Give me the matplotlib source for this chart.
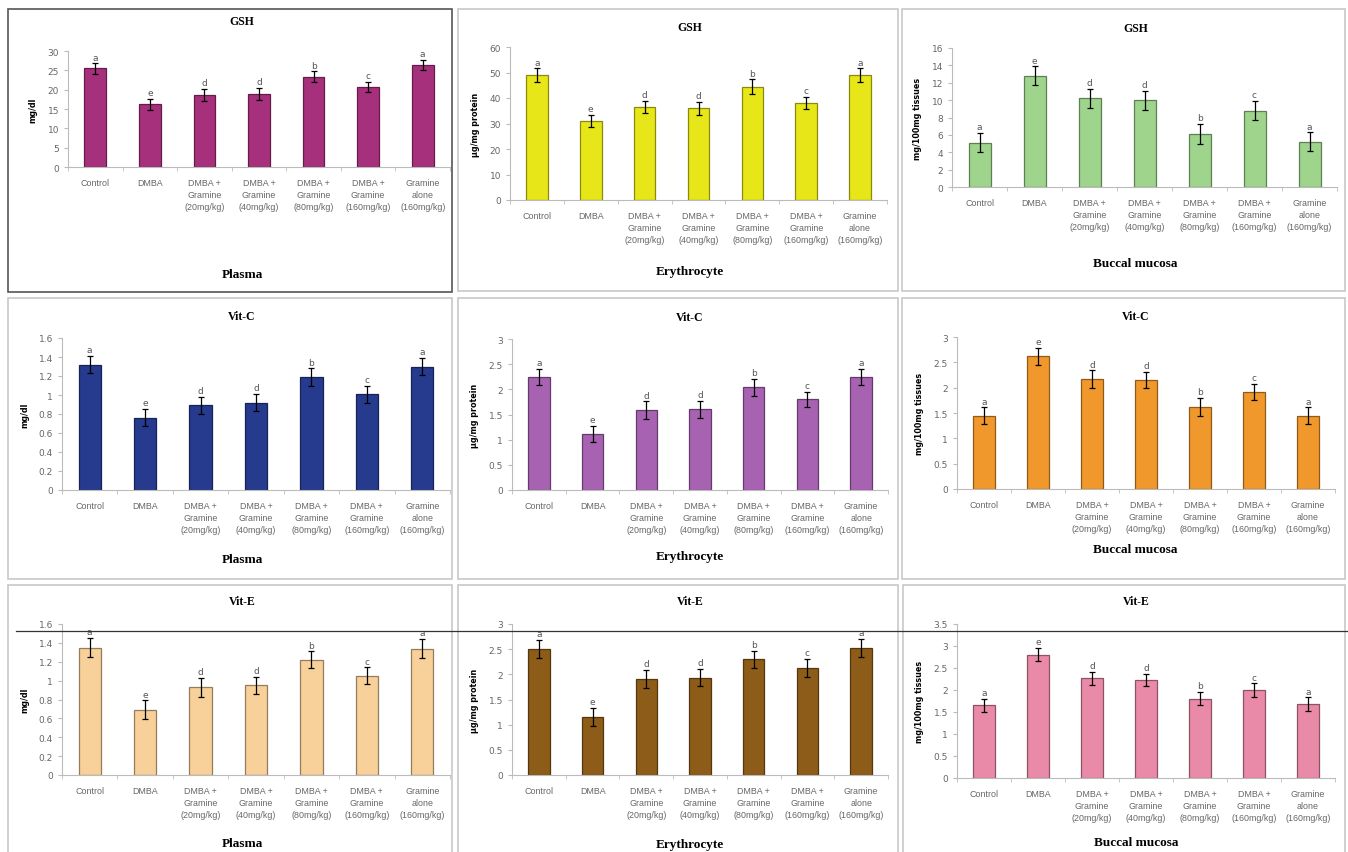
import numpy as np
import matplotlib as mpl
mpl.use('Agg')
import matplotlib.pyplot as plt
from matplotlib.patches import Rectangle
from matplotlib.lines import Line2D

W, H = 1348, 853

groups = ['Control', 'DMBA', 'DMBA +\nGramine\n(20mg/kg)', 'DMBA +\nGramine\n(40mg/kg)',
          'DMBA +\nGramine\n(80mg/kg)', 'DMBA +\nGramine\n(160mg/kg)', 'Gramine\nalone\n(160mg/kg)']
letters = ['a', 'e', 'd', 'd', 'b', 'c', 'a']

# GSH
gsh_plasma = [25.5, 16.2, 18.7, 18.9, 23.3, 20.8, 26.4]
gsh_plasma_err = [1.4, 1.5, 1.6, 1.6, 1.4, 1.3, 1.4]
gsh_ery = [49.0, 31.0, 36.5, 36.0, 44.5, 38.0, 49.0]
gsh_ery_err = [2.6, 2.5, 2.5, 2.6, 2.8, 2.4, 2.6]
gsh_buccal = [5.1, 12.8, 10.2, 10.0, 6.1, 8.8, 5.2]
gsh_buccal_err = [1.1, 1.1, 1.1, 1.1, 1.2, 1.1, 1.1]
# Vit-C
vitc_plasma = [1.32, 0.76, 0.89, 0.92, 1.19, 1.01, 1.30]
vitc_plasma_err = [0.09, 0.09, 0.09, 0.09, 0.09, 0.09, 0.09]
vitc_ery = [2.25, 1.12, 1.59, 1.60, 2.04, 1.80, 2.25]
vitc_ery_err = [0.16, 0.16, 0.17, 0.17, 0.17, 0.15, 0.16]
vitc_buccal = [1.45, 2.62, 2.17, 2.15, 1.62, 1.91, 1.45]
vitc_buccal_err = [0.16, 0.17, 0.17, 0.16, 0.17, 0.16, 0.16]
# Vit-E
vite_plasma = [1.35, 0.69, 0.93, 0.95, 1.22, 1.05, 1.34]
vite_plasma_err = [0.10, 0.10, 0.10, 0.09, 0.09, 0.09, 0.10]
vite_ery = [2.50, 1.15, 1.90, 1.93, 2.30, 2.13, 2.52]
vite_ery_err = [0.18, 0.18, 0.18, 0.17, 0.17, 0.18, 0.18]
vite_buccal = [1.65, 2.80, 2.27, 2.23, 1.80, 2.00, 1.68]
vite_buccal_err = [0.15, 0.15, 0.15, 0.14, 0.15, 0.15, 0.15]

# (values, errors, title, ylabel, xlabel, colour, ymax, ystep)
panels = [
    (gsh_plasma, gsh_plasma_err, 'GSH', 'mg/dl', 'Plasma', '#a6307c', 30, 5),
    (gsh_ery, gsh_ery_err, 'GSH', 'µg/mg protein', 'Erythrocyte', '#e6e619', 60, 10),
    (gsh_buccal, gsh_buccal_err, 'GSH', 'mg/100mg tissues', 'Buccal mucosa', '#9fd48d', 16, 2),
    (vitc_plasma, vitc_plasma_err, 'Vit-C', 'mg/dl', 'Plasma', '#263a8e', 1.6, 0.2),
    (vitc_ery, vitc_ery_err, 'Vit-C', 'µg/mg protein', 'Erythrocyte', '#a862b2', 3, 0.5),
    (vitc_buccal, vitc_buccal_err, 'Vit-C', 'mg/100mg tissues', 'Buccal mucosa', '#f0982c', 3, 0.5),
    (vite_plasma, vite_plasma_err, 'Vit-E', 'mg/dl', 'Plasma', '#f7d09a', 1.6, 0.2),
    (vite_ery, vite_ery_err, 'Vit-E', 'µg/mg protein', 'Erythrocyte', '#8c5c18', 3, 0.5),
    (vite_buccal, vite_buccal_err, 'Vit-E', 'mg/100mg tissues', 'Buccal mucosa', '#e98aa8', 3.5, 0.5),
]

# pixel layout: axes (left, right, y at 0, y at ymax), frame (x0, y0, x1, y1), title y, xlabel y
layout = [
    ((68, 450, 168, 52), (8, 10, 452, 293), 22, 275),
    ((510, 887, 201, 48), (458, 10, 898, 292), 28, 272),
    ((952, 1337, 188, 49), (902, 10, 1345, 292), 29, 264),
    ((62, 450, 491, 339), (8, 299, 452, 580), 317, 560),
    ((512, 888, 491, 340), (458, 299, 898, 580), 318, 557),
    ((957, 1335, 490, 338), (902, 299, 1345, 580), 317, 550),
    ((62, 450, 776, 625), (8, 586, 452, 860), 602, 844),
    ((512, 888, 776, 625), (458, 586, 898, 860), 602, 845),
    ((957, 1335, 779, 625), (903, 586, 1345, 860), 602, 843),
]

fig = plt.figure(figsize=(W / 100, H / 100), dpi=100)
fig.patch.set_facecolor('white')

def darker(c, f=0.6):
    r, g, b = mpl.colors.to_rgb(c)
    return (r * f, g * f, b * f)

x = np.arange(len(groups))
for i, (vals, errs, title, ylab, xlab, col, ymax, ystep) in enumerate(panels):
    (l, r, yb, yt), (fx0, fy0, fx1, fy1), ty, xly = layout[i]
    ec = '#555555' if i == 0 else '#c8c8c8'
    fig.add_artist(Rectangle((fx0 / W, 1 - fy1 / H), (fx1 - fx0) / W, (fy1 - fy0) / H,
                             transform=fig.transFigure, fill=False, edgecolor=ec, lw=1.2))
    ax = fig.add_axes([l / W, 1 - yb / H, (r - l) / W, (yb - yt) / H])
    ax.bar(x, vals, width=0.4, color=col, edgecolor=darker(col), linewidth=0.9, zorder=2)
    ax.errorbar(x, vals, yerr=errs, fmt='none', ecolor='black', elinewidth=0.9,
                capsize=2, capthick=0.9, zorder=3)
    for xi, v, e, let in zip(x, vals, errs, letters):
        ax.text(xi, v + e + ymax * 0.012, let, ha='center', va='bottom',
                fontsize=6.5, color='#555555')
    ax.set_xlim(-0.5, len(groups) - 0.5)
    ax.set_ylim(0, ymax)
    ticks = np.arange(0, ymax + ystep / 2, ystep)
    ax.set_yticks(ticks)
    ax.set_yticklabels(['%g' % t for t in ticks])
    ax.set_xticks(x)
    ax.set_xticklabels(groups, fontsize=6.4, color='#666666', family='Liberation Sans',
                       linespacing=1.45)
    ax.set_xticks(np.arange(-0.5, len(groups)), minor=True)
    ax.tick_params(axis='x', which='major', length=0, pad=8)
    ax.tick_params(axis='x', which='minor', length=3, color='#bbbbbb')
    ax.tick_params(axis='y', labelsize=6.5, labelcolor='#666666', color='#bbbbbb', length=3)
    for s in ['top', 'right']:
        ax.spines[s].set_visible(False)
    for s in ['left', 'bottom']:
        ax.spines[s].set_color('#bbbbbb')
    ax.set_ylabel(ylab, fontsize=5.8, fontweight='bold', labelpad=7)
    cx = (fx0 + fx1) / 2 + 12
    fig.text(cx / W, 1 - ty / H, title, ha='center', va='center', family='Liberation Serif',
             fontweight='bold', fontsize=8.5)
    fig.text(cx / W, 1 - xly / H, xlab, ha='center', va='center', family='Liberation Serif',
             fontweight='bold', fontsize=9.5)

# stray horizontal rule across the bottom row
fig.add_artist(Line2D([16 / W, 1], [1 - 632 / H, 1 - 632 / H], transform=fig.transFigure,
                      color='#333333', lw=0.9))

fig.savefig('out.png', dpi=100)
